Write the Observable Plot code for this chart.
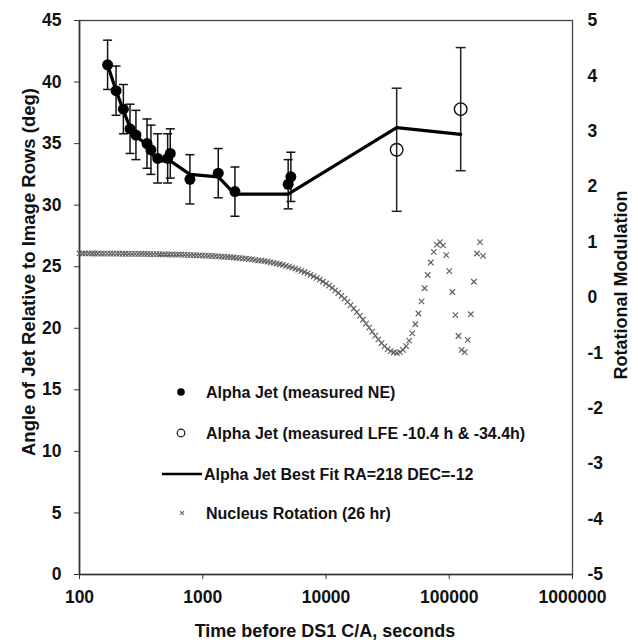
<!DOCTYPE html>
<html>
<head>
<meta charset="utf-8">
<script src="https://cdn.jsdelivr.net/npm/d3@7"></script>
<script src="https://cdn.jsdelivr.net/npm/@observablehq/plot@0.6"></script>
<style>
  html, body { margin: 0; padding: 0; background: #fff; }
  #chart { width: 638px; height: 643px; }
</style>
</head>
<body>
<div id="chart"></div>
<script>
// ---- Data ----
// Alpha Jet measured NE: time before C/A (s), angle (deg), error (deg)
const neTimes  = [169, 198, 227, 257, 287, 353, 380, 431, 519, 545, 787, 1336, 1824, 4932, 5188];
const neAngles = [41.4, 39.3, 37.8, 36.2, 35.7, 35.0, 34.5, 33.8, 33.8, 34.2, 32.1, 32.6, 31.1, 31.7, 32.3];
const neErrors = [2, 2, 2, 2, 2, 2, 2, 2, 2, 2, 2, 2, 2, 2, 2];

// Alpha Jet measured LFE (-10.4 h, -34.4 h)
const lfeTimes  = [37440, 123840];
const lfeAngles = [34.5, 37.8];
const lfeErrors = [5, 5];

// Best fit RA=218 DEC=-12
const fitTimes  = [169, 198, 227, 257, 287, 353, 380, 431, 545, 787, 1336, 1824, 4932, 37440, 123840];
const fitAngles = [41.4, 39.3, 37.7, 36.3, 35.6, 34.9, 34.3, 33.6, 33.6, 32.5, 32.3, 30.9, 30.9, 36.3, 35.75];

// Nucleus rotation (26 hr): time (s), rotational modulation (right axis)
const nucTimes = [100,106,112,119,126,133,141,150,158,168,178,188,200,211,224,237,251,266,282,299,
  316,335,355,376,398,422,447,473,501,531,562,596,631,668,708,750,794,841,891,944,
  1000,1059,1122,1189,1259,1334,1413,1496,1585,1679,1778,1884,1995,2113,2239,2371,2512,2661,2818,2985,
  3162,3350,3548,3758,3981,4217,4467,4732,5012,5309,5623,5957,6310,6683,7079,7499,7943,8414,8913,9441,
  10000,10593,11220,11885,12589,13335,14125,14962,15849,16788,17783,18836,19953,21135,22387,23714,25119,26607,28184,29854,
  31623,33497,35481,37584,39811,42170,44668,47315,50119,53088,56234,59566,63096,66834,70795,74989,79433,84140,89125,94406,
  100000,105925,112202,118850,125893,133352,141254,149624,158489,167880,177828,188365];
const nucValues = [0.796,0.795,0.795,0.795,0.794,0.794,0.794,0.793,0.793,0.793,
  0.792,0.792,0.791,0.791,0.790,0.790,0.789,0.788,0.788,0.787,
  0.786,0.786,0.785,0.784,0.783,0.782,0.781,0.780,0.779,0.777,
  0.776,0.775,0.773,0.772,0.770,0.768,0.766,0.764,0.762,0.760,
  0.757,0.755,0.752,0.749,0.746,0.742,0.739,0.735,0.731,0.727,
  0.722,0.717,0.712,0.706,0.700,0.694,0.687,0.680,0.672,0.664,
  0.655,0.646,0.635,0.624,0.613,0.600,0.587,0.572,0.557,0.540,
  0.522,0.503,0.482,0.460,0.436,0.410,0.383,0.354,0.322,0.289,
  0.252,0.214,0.172,0.128,0.081,0.031,-0.022,-0.078,-0.137,-0.199,
  -0.264,-0.332,-0.401,-0.473,-0.545,-0.617,-0.689,-0.757,-0.822,-0.881,
  -0.931,-0.969,-0.993,-1.000,-0.985,-0.945,-0.877,-0.778,-0.647,-0.483,
  -0.289,-0.069,0.167,0.406,0.632,0.823,0.953,1.000,0.941,0.766,
  0.477,0.099,-0.317,-0.695,-0.946,-0.985,-0.764,-0.302,0.284,0.794,
  1.000,0.750];

// Ticks and labels
const xTicks = [100, 1000, 10000, 100000, 1000000];
const yTicks = [0, 5, 10, 15, 20, 25, 30, 35, 40, 45];
const rotTicks = [-5, -4, -3, -2, -1, 0, 1, 2, 3, 4, 5];
const xTitle = "Time before DS1 C/A, seconds";
const yTitle = "Angle of Jet Relative to Image Rows (deg)";
const y2Title = "Rotational Modulation";
const legendLabels = [
  "Alpha Jet (measured NE)",
  "Alpha Jet (measured LFE -10.4 h & -34.4h)",
  "Alpha Jet Best Fit RA=218 DEC=-12",
  "Nucleus Rotation (26 hr)"
];

// ---- Build tables ----
// right axis (-5..5) shares the frame with left axis (0..45)
const rotToAngle = v => (v + 5) * 4.5;
const ne  = neTimes.map((t, i) => ({t, a: neAngles[i], e: neErrors[i]}));
const lfe = lfeTimes.map((t, i) => ({t, a: lfeAngles[i], e: lfeErrors[i]}));
const fit = fitTimes.map((t, i) => ({t, a: fitAngles[i]}));
const nuc = nucTimes.map((t, i) => ({t, a: rotToAngle(nucValues[i])}));

const capSymbol = {
  draw(context, size) {
    const w = Math.sqrt(size / Math.PI);
    context.moveTo(-w, 0);
    context.lineTo(w, 0);
  }
};

const FONT = "'Liberation Sans', Arial, Helvetica, sans-serif";

const chart = Plot.plot({
  width: 638,
  height: 643,
  marginLeft: 79,
  marginRight: 66,
  marginTop: 20,
  marginBottom: 69,
  style: {fontFamily: FONT, fontSize: "17.5px", fontWeight: "bold", background: "#fff", color: "#111"},
  x: {type: "log", domain: [100, 1000000]},
  y: {domain: [0, 45]},
  marks: [
    Plot.frame({stroke: "#444", strokeWidth: 1.3}),
    Plot.ruleX([100], {stroke: "#333", strokeWidth: 1.6}),
    Plot.ruleY([0], {stroke: "#333", strokeWidth: 1.6}),
    Plot.axisX({ticks: xTicks, tickFormat: d => String(d), tickSize: 5, tickPadding: 11, label: null, stroke: "#333"}),
    Plot.axisY({ticks: yTicks, tickSize: 5, tickPadding: 13, label: null, stroke: "#333"}),
    Plot.axisY({anchor: "right", ticks: rotTicks.map(rotToAngle), tickFormat: d => String(Math.round(d / 4.5 - 5)), tickSize: 0, tickPadding: 15, label: null}),
    // nucleus rotation
    Plot.dot(nuc, {x: "t", y: "a", symbol: "times", r: 2.6, stroke: "#606060", strokeWidth: 1.15}),
    // error bars
    Plot.ruleX(ne, {x: "t", y1: d => d.a - d.e, y2: d => d.a + d.e, stroke: "#111", strokeWidth: 1.5}),
    Plot.dot(ne, {x: "t", y: d => d.a + d.e, symbol: capSymbol, r: 4.5, fill: "none", stroke: "#111", strokeWidth: 1.5}),
    Plot.dot(ne, {x: "t", y: d => d.a - d.e, symbol: capSymbol, r: 4.5, fill: "none", stroke: "#111", strokeWidth: 1.5}),
    Plot.ruleX(lfe, {x: "t", y1: d => d.a - d.e, y2: d => d.a + d.e, stroke: "#222", strokeWidth: 1.5}),
    Plot.dot(lfe, {x: "t", y: d => d.a + d.e, symbol: capSymbol, r: 5, fill: "none", stroke: "#222", strokeWidth: 1.5}),
    Plot.dot(lfe, {x: "t", y: d => d.a - d.e, symbol: capSymbol, r: 5, fill: "none", stroke: "#222", strokeWidth: 1.5}),
    // best fit line
    Plot.line(fit, {x: "t", y: "a", stroke: "#000", strokeWidth: 3.2, curve: "linear"}),
    // measured points
    Plot.dot(ne, {x: "t", y: "a", r: 5.5, fill: "#000", stroke: "none"}),
    Plot.dot(lfe, {x: "t", y: "a", r: 6.3, fill: "none", stroke: "#111", strokeWidth: 1.4})
  ]
});

document.getElementById("chart").appendChild(chart);

// ---- Axis titles and in-plot legend ----
const svg = d3.select(chart);
svg.append("text")
  .attr("x", 325).attr("y", 637)
  .attr("text-anchor", "middle")
  .style("font", `bold 18px ${FONT}`).attr("fill", "#111")
  .text(xTitle);
svg.append("text")
  .attr("transform", "translate(35,272) rotate(-90)")
  .attr("text-anchor", "middle")
  .style("font", `bold 18.5px ${FONT}`).attr("fill", "#111")
  .text(yTitle);
svg.append("text")
  .attr("transform", "translate(627,285) rotate(-90)")
  .attr("text-anchor", "middle")
  .style("font", `bold 18px ${FONT}`).attr("fill", "#111")
  .text(y2Title);

const lg = svg.append("g").style("font", `bold 16px ${FONT}`).attr("fill", "#111").attr("text-anchor", "start");
const rowsY = [392, 433, 474, 513];
lg.append("circle").attr("cx", 181).attr("cy", rowsY[0]).attr("r", 3.8).attr("fill", "#000");
lg.append("circle").attr("cx", 181).attr("cy", rowsY[1]).attr("r", 3.8).attr("fill", "none").attr("stroke", "#111").attr("stroke-width", 1.2);
lg.append("line").attr("x1", 162).attr("x2", 202).attr("y1", rowsY[2]).attr("y2", rowsY[2]).attr("stroke", "#000").attr("stroke-width", 2.6);
lg.append("path").attr("d", d3.symbol(d3.symbolTimes, 12)()).attr("transform", `translate(182,${rowsY[3]})`).attr("fill", "none").attr("stroke", "#606060").attr("stroke-width", 1.1);
legendLabels.forEach((s, i) => {
  lg.append("text").attr("x", i === 2 ? 204 : 206).attr("y", rowsY[i]).attr("dy", "0.35em").attr("text-anchor", "start").text(s);
});
</script>
</body>
</html>
